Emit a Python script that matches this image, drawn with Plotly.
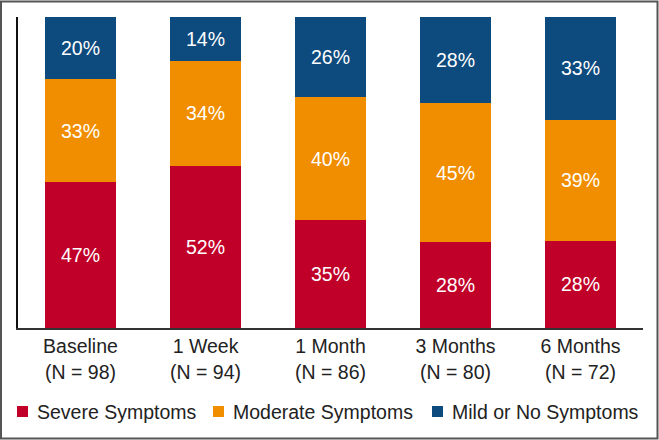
import plotly.graph_objects as go

categories = ["Baseline<br>(N = 98)", "1 Week<br>(N = 94)", "1 Month<br>(N = 86)",
              "3 Months<br>(N = 80)", "6 Months<br>(N = 72)"]
severe = [47, 52, 35, 28, 28]
moderate = [33, 34, 40, 45, 39]
mild = [20, 14, 26, 28, 33]

series = [
    ("Severe Symptoms", severe, "#C10029"),
    ("Moderate Symptoms", moderate, "#F18E00"),
    ("Mild or No Symptoms", mild, "#0D4A7E"),
]

FONT = "Liberation Sans, Arial, sans-serif"
FS = 19.5

fig = go.Figure()
for name, vals, color in series:
    fig.add_trace(go.Bar(
        x=categories, y=vals, name=name,
        marker=dict(color=color, line=dict(width=0)),
        text=[f"{v}%" for v in vals],
        textposition="inside", insidetextanchor="middle",
        textangle=0,
        textfont=dict(color="white", size=FS, family=FONT),
        showlegend=False,
    ))

W, H = 659, 440
L, R, T, B = 18, 16, 17, 112
pw, ph = W - L - R, H - T - B

def px_x(x):
    return (x - L) / pw

def px_y(y):
    return (H - B - y) / ph

# legend drawn as annotations + squares (layout positions in pixels)
legend_x = [17, 213, 432]
shapes = [dict(type="rect", xref="paper", yref="paper",
               x0=px_x(1), x1=px_x(657.5), y0=px_y(438.5), y1=px_y(1.5),
               line=dict(color="#555", width=2), fillcolor="rgba(0,0,0,0)",
               layer="below")]
annotations = []
for (name, vals, color), lx in zip(series, legend_x):
    shapes.append(dict(type="rect", xref="paper", yref="paper",
                       x0=px_x(lx), x1=px_x(lx + 11), y0=px_y(417), y1=px_y(406),
                       line=dict(width=0), fillcolor=color))
    annotations.append(dict(text=name, xref="paper", yref="paper",
                            x=px_x(lx + 18), y=px_y(411.5), xanchor="left",
                            yanchor="middle", showarrow=False,
                            font=dict(size=FS, family=FONT, color="#222")))

fig.update_layout(
    width=W, height=H,
    barmode="stack", barnorm="percent", bargap=0.43,
    margin=dict(l=L, r=R, t=T, b=B),
    paper_bgcolor="white", plot_bgcolor="white",
    font=dict(family=FONT, size=FS, color="#222"),
    showlegend=False,
    xaxis=dict(showline=True, linecolor="#333", linewidth=2, ticks="",
               showgrid=False, zeroline=False, ticklabelstandoff=0,
               tickfont=dict(size=FS, family=FONT, color="#222")),
    yaxis=dict(showline=True, linecolor="#111", linewidth=2, range=[0, 100],
               showticklabels=False, ticks="", showgrid=False, zeroline=False),
    shapes=shapes,
    annotations=annotations,
)

fig.write_html("out.html", config={"displayModeBar": False},
               post_script="document.body.style.margin='0';document.body.style.overflow='hidden';")
